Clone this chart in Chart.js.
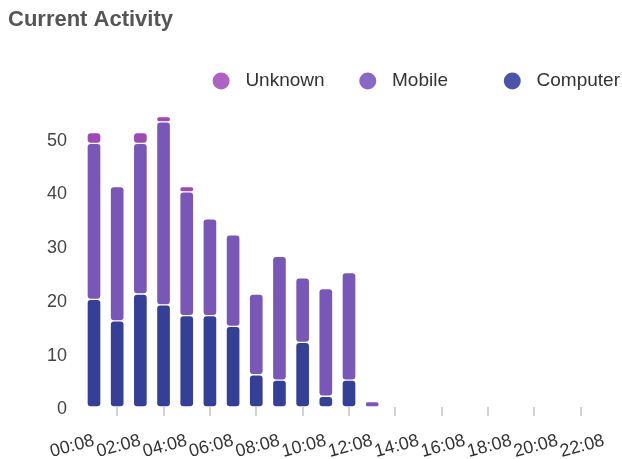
<!DOCTYPE html>
<html>
<head>
<meta charset="utf-8">
<script src="https://cdn.jsdelivr.net/npm/chart.js@4.4.1/dist/chart.umd.min.js"></script>
<style>
  html, body { margin: 0; padding: 0; background: #fff; }
</style>
</head>
<body>
<canvas id="actividad" width="622" height="459"></canvas>
<script>
// Horas (cada hora, etiqueta cada dos)
const horas = ['00:08', '01:08', '02:08', '03:08', '04:08', '05:08', '06:08', '07:08',
  '08:08', '09:08', '10:08', '11:08', '12:08', '13:08', '14:08', '15:08', '16:08',
  '17:08', '18:08', '19:08', '20:08', '21:08', '22:08'];

// Series apiladas (de abajo hacia arriba)
const computer = [20, 16, 21, 19, 17, 17, 15, 6, 5, 12, 2, 5, 0, 0, 0, 0, 0, 0, 0, 0, 0, 0, 0];
const mobile   = [29, 25, 28, 34, 23, 18, 17, 15, 23, 12, 20, 20, 1, 0, 0, 0, 0, 0, 0, 0, 0, 0, 0];
const unknown  = [2, 0, 2, 1, 1, 0, 0, 0, 0, 0, 0, 0, 0, 0, 0, 0, 0, 0, 0, 0, 0, 0, 0];

const yMax = 57;
const yStep = 10;

Chart.defaults.font.family = "'Liberation Sans', Arial, sans-serif";

// Texto de la leyenda con espacios para imitar columnas fijas
const textoLeyenda = {
  'Unknown': ' Unknown'.padEnd(14, ' '),
  'Mobile': ' Mobile'.padEnd(17, ' '),
  'Computer': ' Computer'
};
const colorLeyenda = {
  'Unknown': '#ae62c4',
  'Mobile': '#8867c6',
  'Computer': '#4a54a8'
};

const ctx = document.getElementById('actividad').getContext('2d');

const miGrafico = new Chart(ctx, {
  type: 'bar',
  data: {
    labels: horas,
    datasets: [
      { label: 'Computer', data: computer, backgroundColor: '#343f98' },
      { label: 'Mobile', data: mobile, backgroundColor: '#7857b9' },
      { label: 'Unknown', data: unknown, backgroundColor: '#a048b9' }
    ]
  },
  options: {
    responsive: false,
    animation: false,
    layout: { padding: { left: 8, right: 0, top: 0, bottom: 0 } },
    datasets: {
      bar: {
        clip: false,
        barThickness: 14,
        borderWidth: 1,
        borderColor: '#ffffff',
        // objeto para que también se redondeen los tramos intermedios
        borderRadius: { topLeft: 4, topRight: 4, bottomLeft: 4, bottomRight: 4 },
        borderSkipped: false
      }
    },
    plugins: {
      title: {
        display: true,
        text: 'Current Activity',
        align: 'start',
        color: '#555555',
        font: { size: 22, weight: 'bold' },
        padding: { top: 7, bottom: 36 }
      },
      legend: {
        display: true,
        align: 'end',
        reverse: true,
        labels: {
          usePointStyle: true,
          pointStyle: 'circle',
          boxWidth: 19,
          boxHeight: 12,
          padding: 2,
          color: '#333333',
          font: { size: 19 },
          generateLabels: function (chart) {
            const base = Chart.defaults.plugins.legend.labels.generateLabels(chart);
            return base.map(function (item) {
              const nombre = item.text;
              item.text = textoLeyenda[nombre];
              item.fillStyle = colorLeyenda[nombre];
              item.strokeStyle = colorLeyenda[nombre];
              item.lineWidth = 0;
              return item;
            });
          }
        }
      },
      tooltip: { enabled: false }
    },
    scales: {
      x: {
        stacked: true,
        offset: false,
        border: { display: false },
        grid: {
          display: true,
          drawOnChartArea: false,
          drawTicks: true,
          tickLength: 9,
          color: '#d2d2d2',
          lineWidth: 2
        },
        ticks: {
          autoSkip: false,
          minRotation: 15,
          maxRotation: 15,
          padding: 14,
          color: '#333333',
          font: { size: 18 },
          callback: function (value, index) {
            return index % 2 === 0 ? horas[index] : null;
          }
        },
        afterFit: function (scale) {
          scale.paddingRight = 18;
          scale.height = 52;
        }
      },
      y: {
        stacked: true,
        min: 0,
        max: yMax,
        border: { display: false },
        grid: { display: false, drawTicks: false },
        ticks: {
          stepSize: yStep,
          includeBounds: false,
          padding: 27,
          labelOffset: 2.5,
          color: '#444444',
          font: { size: 18 }
        },
        afterFit: function (scale) {
          scale.width = 86;
        }
      }
    }
  }
});
</script>
</body>
</html>
